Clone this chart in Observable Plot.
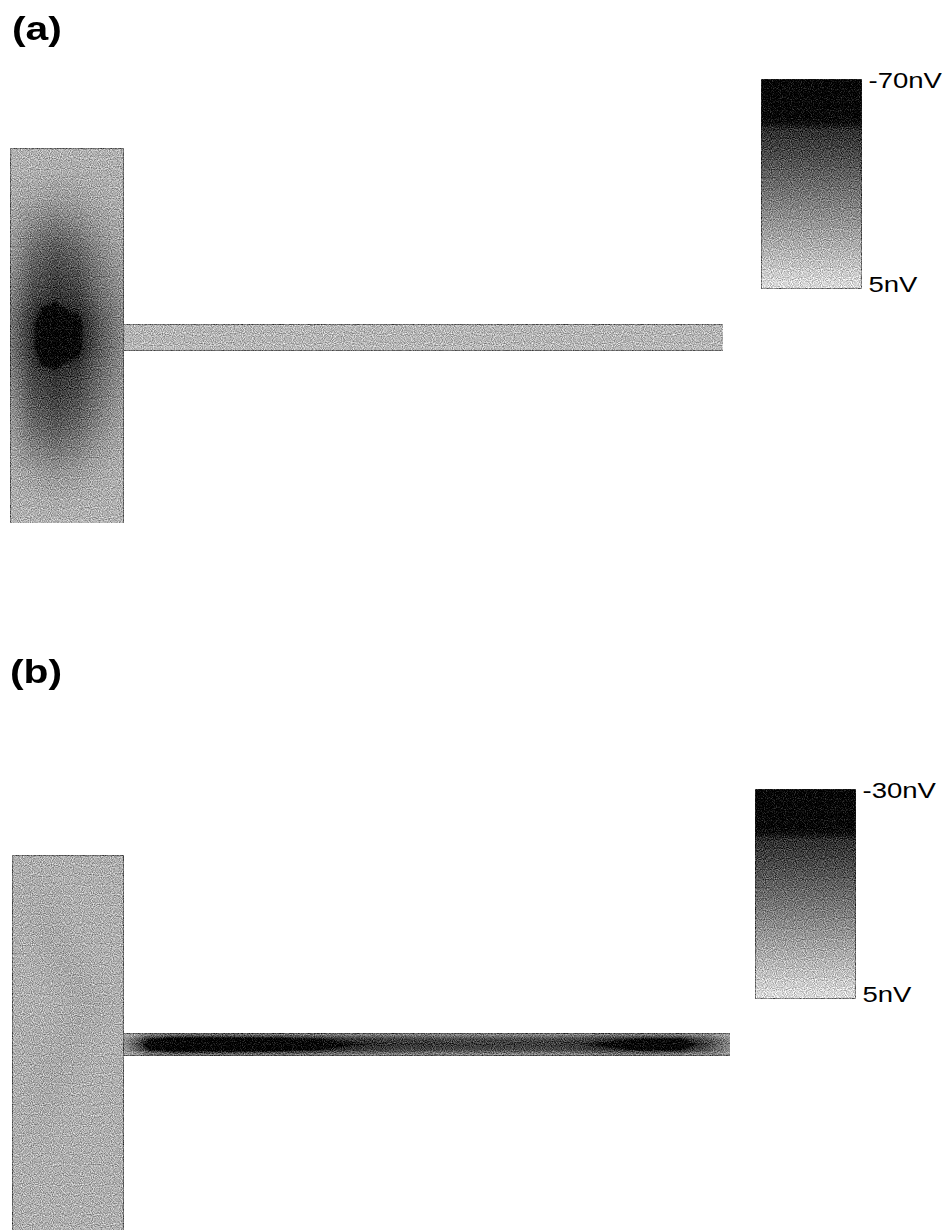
<!DOCTYPE html>
<html>
<head>
<meta charset="utf-8">
<script src="https://cdn.jsdelivr.net/npm/d3@7"></script>
<script src="https://cdn.jsdelivr.net/npm/@observablehq/plot@0.6"></script>
<style>
  body { margin: 0; background: #fff; }
  #page { position: relative; width: 949px; height: 1230px; overflow: hidden; font-family: "Liberation Sans", Arial, sans-serif; }
  .panel-title { position: absolute; font-weight: bold; font-size: 34px; line-height: 34px; transform: scaleX(1.2); transform-origin: 0 0; color: #000; }
  .abs { position: absolute; }
</style>
</head>
<body>
<div id="page"></div>
<svg width="0" height="0" style="position:absolute">
  <defs>
    <filter id="grain" x="0" y="0" width="1" height="1" color-interpolation-filters="sRGB">
      <feTurbulence type="fractalNoise" baseFrequency="0.9" numOctaves="1" seed="7" result="noise"/>
      <feColorMatrix in="noise" type="matrix" values="1 0 0 0 0  1 0 0 0 0  1 0 0 0 0  0 0 0 0 1" result="gray"/>
      <feComposite in="SourceGraphic" in2="gray" operator="arithmetic" k1="0" k2="1" k3="0.9" k4="-0.45"/>
    </filter>
  </defs>
</svg>
<script>
// ---------------- DATA ----------------
const panelLabels = ["(a)", "(b)"];
const unit = "nV";
const colorbarTicksA = [-70, 5];
const colorbarTicksB = [-30, 5];

// Sample grid of the pad (µm)
const padXa = [0, 22.6, 45.2, 67.8, 90.4, 113];
const padYa = [0, 25, 50, 75, 100, 125, 150, 175, 200, 225, 250, 275, 300, 325, 350, 375];
// Panel (a) pad potential, nV (rows follow padYa, columns follow padXa)
const padA = [
  [-9, -9, -9, -9, -9, -9],
  [-10, -10, -11, -11, -10, -10],
  [-11, -14, -16, -15, -12, -10],
  [-13, -22, -27, -23, -16, -12],
  [-16, -31, -38, -33, -22, -14],
  [-20, -38, -45, -40, -27, -17],
  [-24, -44, -51, -47, -31, -20],
  [-28, -52, -70, -57, -37, -22],
  [-28, -52, -70, -57, -37, -22],
  [-24, -45, -51, -47, -32, -20],
  [-20, -40, -46, -41, -28, -17],
  [-16, -33, -39, -34, -23, -14],
  [-13, -24, -29, -25, -17, -12],
  [-11, -15, -18, -16, -12, -10],
  [-10, -11, -12, -11, -10, -10],
  [-9, -9, -9, -9, -9, -9]
];
// Panel (a) strip potential, nV (3 rows across, 13 samples along)
const stripXa = [113, 163, 213, 263, 313, 363, 413, 463, 513, 563, 613, 663, 713];
const stripYa = [176, 189, 202];
const stripA = [
  [-7, -7, -7, -7, -7, -7, -7, -7, -7, -7, -7, -7, -7],
  [-9, -8, -8, -8, -8, -8, -8, -8, -8, -8, -8, -8, -8],
  [-7, -7, -7, -7, -7, -7, -7, -7, -7, -7, -7, -7, -7]
];

// Panel (b) pad potential, nV
const padXb = [0, 37, 74, 111];
const padYb = [0, 75, 150, 225, 300, 375];
const padB = [
  [-2, -2, -2, -2],
  [-2, -3, -2, -2],
  [-2, -2, -3, -2],
  [-2, -3, -2, -2],
  [-2, -2, -2, -2],
  [-2, -2, -2, -2]
];
// Panel (b) strip potential, nV (5 rows across, 25 samples along)
const stripXb = [111, 136.3, 161.6, 186.9, 212.2, 237.5, 262.8, 288.1, 313.4, 338.7, 364, 389.3, 414.6, 439.9, 465.2, 490.5, 515.8, 541.1, 566.4, 591.7, 617, 642.3, 667.6, 692.9, 718];
const stripYb = [178, 183.5, 189, 194.5, 200];
const stripB = [
  [-3, -7, -9, -9, -9, -8, -8, -8, -7, -7, -7, -7, -7, -6, -6, -6, -6, -6, -6, -7, -7, -7, -7, -6, -3],
  [-5, -22, -28, -28, -28, -27, -26, -24, -22, -20, -19, -18, -18, -17, -17, -17, -17, -17, -18, -20, -22, -24, -23, -16, -7],
  [-6, -27, -31, -31, -31, -30, -29, -27, -25, -23, -22, -21, -21, -20, -20, -20, -20, -20, -21, -24, -26, -28, -27, -20, -8],
  [-5, -22, -28, -28, -28, -27, -26, -24, -22, -20, -19, -18, -18, -17, -17, -17, -17, -17, -18, -20, -22, -24, -23, -16, -7],
  [-3, -7, -9, -9, -9, -8, -8, -8, -7, -7, -7, -7, -7, -6, -6, -6, -6, -6, -6, -7, -7, -7, -7, -6, -3]
];

// ---------------- BUILD ----------------
function toPoints(xs, ys, grid) {
  const pts = [];
  ys.forEach((y, j) => xs.forEach((x, i) => pts.push({x, y, v: grid[j][i]})));
  return pts;
}
function grayScale(min, max) {
  const t = (f) => min + f * (max - min);
  return {
    type: "linear",
    domain: [min, t(0.2), t(0.24), max],
    range: ["#000000", "#050505", "#2e2e2e", "#dcdcdc"],
    clamp: true
  };
}
const FONT = '"Liberation Sans", Arial, sans-serif';
const page = document.getElementById("page");

function place(el, left, top) {
  el.classList.add("abs");
  el.style.left = left + "px";
  el.style.top = top + "px";
  page.appendChild(el);
  el.querySelectorAll("image").forEach((img) => img.setAttribute("filter", "url(#grain)"));
  return el;
}

function fieldPlot(opts) {
  const {min, padW, padH, totalW, stripY1, stripY2, padPts, stripPts} = opts;
  return Plot.plot({
    width: totalW, height: padH, margin: 0,
    style: {background: "transparent"},
    x: {domain: [0, totalW], axis: null},
    y: {domain: [0, padH], reverse: true, axis: null},
    color: grayScale(min, 5),
    marks: [
      Plot.raster(padPts, {x: "x", y: "y", fill: "v", x1: 0, x2: padW, y1: 0, y2: padH, interpolate: "barycentric"}),
      Plot.raster(stripPts, {x: "x", y: "y", fill: "v", x1: padW, x2: totalW, y1: stripY1, y2: stripY2, interpolate: "barycentric"})
    ]
  });
}

function colorbar(ticks) {
  const [min, max] = ticks;
  return Plot.plot({
    width: 100 + 95, height: 209 + 40,
    marginTop: 20, marginBottom: 20, marginLeft: 0, marginRight: 95,
    style: {fontFamily: FONT, fontSize: "22px", background: "transparent", color: "#000"},
    x: {domain: [0, 1], axis: null},
    y: {domain: [min, max], reverse: true},
    color: grayScale(min, max),
    marks: [
      Plot.raster({x1: 0, x2: 1, y1: min, y2: max, fill: (x, y) => y}),
      Plot.axisY([min], {anchor: "right", tickSize: 0, tickPadding: 7, label: null, fontSize: 22, dy: 1, tickFormat: (d) => `${d}${unit}`}),
      Plot.axisY([max], {anchor: "right", tickSize: 0, tickPadding: 7, label: null, fontSize: 22, dy: -4, tickFormat: (d) => `${d}${unit}`})
    ]
  });
}

// titles
[[panelLabels[0], 12, 11], [panelLabels[1], 10, 654]].forEach(([txt, l, t]) => {
  const d = document.createElement("div");
  d.className = "panel-title";
  d.textContent = txt;
  d.style.left = l + "px";
  d.style.top = t + "px";
  page.appendChild(d);
});

// panel (a)
place(fieldPlot({
  min: -70, padW: 113, padH: 375, totalW: 713, stripY1: 176, stripY2: 202,
  padPts: toPoints(padXa, padYa, padA), stripPts: toPoints(stripXa, stripYa, stripA)
}), 10, 148);
const cbA = place(colorbar(colorbarTicksA), 761, 59);

// panel (b)
place(fieldPlot({
  min: -30, padW: 111, padH: 375, totalW: 718, stripY1: 178, stripY2: 200,
  padPts: toPoints(padXb, padYb, padB), stripPts: toPoints(stripXb, stripYb, stripB)
}), 12, 855);
const cbB = place(colorbar(colorbarTicksB), 755, 769);

// widen tick labels like the reference's stretched lettering
[cbA, cbB].forEach((svg) => {
  svg.querySelectorAll("text").forEach((t) => {
    const L = t.getComputedTextLength();
    if (L > 0) {
      t.setAttribute("textLength", (L * 1.25).toFixed(1));
      t.setAttribute("lengthAdjust", "spacingAndGlyphs");
    }
  });
});
</script>
</body>
</html>
